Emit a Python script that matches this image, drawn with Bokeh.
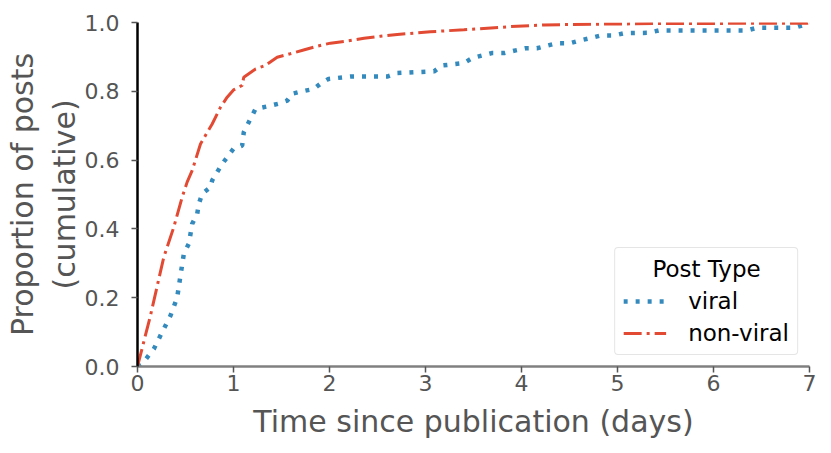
from bokeh.plotting import figure
from bokeh.models import Legend, LegendItem, Range1d, FixedTicker, CustomJSTickFormatter
from bokeh.embed import file_html
from bokeh.resources import INLINE

viral_x = [0.0, 0.05, 0.17, 0.257, 0.344, 0.413, 0.448, 0.483, 0.535, 0.57, 0.622, 0.639, 0.674,
           0.76, 0.778, 0.882, 1.0, 1.09, 1.107, 1.177, 1.23, 1.35, 1.47, 1.56, 1.61, 1.716,
           1.837, 1.906, 1.99, 2.22, 2.6, 2.705, 3.09, 3.17, 3.4, 3.49, 3.69, 3.82, 3.94, 4.04,
           4.16, 4.27, 4.37, 4.51, 4.61, 4.72, 4.82, 4.96, 5.07, 5.32, 5.43, 6.35, 6.46, 6.85,
           6.94, 7.0]
viral_y = [0.0, 0.008, 0.051, 0.1, 0.148, 0.2, 0.265, 0.328, 0.357, 0.415, 0.444, 0.473, 0.502,
           0.521, 0.541, 0.589, 0.633, 0.642, 0.681, 0.72, 0.749, 0.756, 0.764, 0.773, 0.793, 0.8,
           0.807, 0.822, 0.836, 0.843, 0.843, 0.853, 0.858, 0.875, 0.882, 0.897, 0.911, 0.911,
           0.919, 0.925, 0.925, 0.933, 0.94, 0.94, 0.948, 0.955, 0.962, 0.962, 0.969, 0.97,
           0.977, 0.977, 0.985, 0.985, 0.993, 1.0]

nonviral_x = [0.0, 0.135, 0.274, 0.378, 0.465, 0.517, 0.57, 0.656, 0.778, 0.865, 0.934, 1.0,
              1.09, 1.107, 1.23, 1.33, 1.455, 1.59, 1.73, 1.87, 2.01, 2.18, 2.36, 2.53, 2.705,
              3.05, 3.4, 3.89, 4.23, 4.75, 5.45, 6.98, 7.0]
nonviral_y = [0.0, 0.148, 0.318, 0.405, 0.492, 0.536, 0.57, 0.647, 0.705, 0.754, 0.783, 0.804,
              0.817, 0.841, 0.865, 0.875, 0.899, 0.909, 0.92, 0.931, 0.94, 0.946, 0.954, 0.96,
              0.965, 0.973, 0.979, 0.988, 0.993, 0.995, 0.997, 0.998, 1.0]

x_ticks = [0, 1, 2, 3, 4, 5, 6, 7]
y_ticks = [0.0, 0.2, 0.4, 0.6, 0.8, 1.0]
labels = ["viral", "non-viral"]
legend_title = "Post Type"

FONT = "DejaVu Sans"
GREY = "#555555"

p = figure(width=831, height=453, output_backend="svg", toolbar_location=None,
           x_range=Range1d(0, 7), y_range=Range1d(0, 1.0),
           min_border_left=137, min_border_right=22, min_border_top=22, min_border_bottom=87)
p.outline_line_color = None
p.grid.visible = False
p.background_fill_color = "white"

r1 = p.line(viral_x, viral_y, line_color="#348ABD", line_width=4.5, line_dash="4 8")
r2 = p.line(nonviral_x, nonviral_y, line_color="#E24A33", line_width=3, line_dash="18 5 3 5")

p.xaxis.ticker = FixedTicker(ticks=x_ticks)
p.yaxis.ticker = FixedTicker(ticks=y_ticks)
p.yaxis.formatter = CustomJSTickFormatter(code="return tick.toFixed(1);")

for ax in (p.xaxis[0], p.yaxis[0]):
    ax.major_label_text_font = FONT
    ax.major_label_text_font_size = "22px"
    ax.major_label_text_color = GREY
    ax.axis_label_text_font = FONT
    ax.axis_label_text_font_size = "30px"
    ax.axis_label_text_color = GREY
    ax.axis_label_text_font_style = "normal"
    ax.major_tick_line_color = GREY
    ax.major_tick_line_width = 1.5
    ax.major_tick_out = 6
    ax.major_tick_in = 0
    ax.minor_tick_line_color = None
    ax.axis_line_width = 2.5

p.xaxis.axis_line_color = "#808080"
p.yaxis.axis_line_color = "black"
p.xaxis.axis_label = "Time since publication (days)"
p.yaxis.axis_label = "Proportion of posts\n(cumulative)"
p.xaxis.major_label_standoff = 2
p.yaxis.major_label_standoff = 12
p.xaxis.axis_label_standoff = 10
p.yaxis.axis_label_standoff = 0

legend = Legend(items=[LegendItem(label=labels[0], renderers=[r1]),
                       LegendItem(label=labels[1], renderers=[r2])],
                location="bottom_right", title="\u00a0" * 4 + legend_title)
legend.title_text_font = FONT
legend.title_text_font_size = "23px"
legend.title_text_font_style = "normal"
legend.title_text_color = "black"
legend.label_text_font = FONT
legend.label_text_font_size = "23px"
legend.label_text_color = "black"
legend.border_line_color = "#cccccc"
legend.border_line_width = 1
legend.background_fill_alpha = 0.8
legend.glyph_width = 43
legend.label_standoff = 22
legend.margin = 11
legend.padding = 8
legend.spacing = 6
legend.title_standoff = 6
if "border_radius" in legend.properties():
    legend.border_radius = 4
p.add_layout(legend)

open("out.html", "w").write(file_html(p, INLINE))
